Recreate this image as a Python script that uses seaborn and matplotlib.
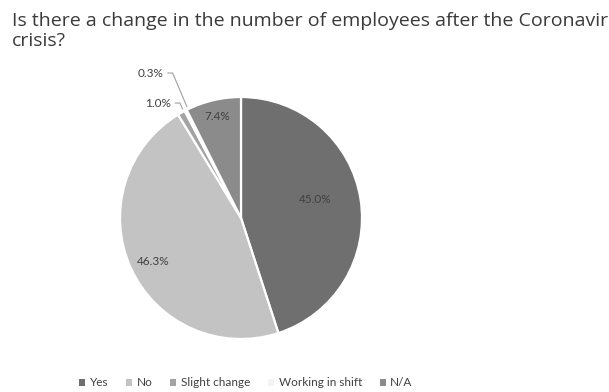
import numpy as np
import matplotlib
matplotlib.use("Agg")
import matplotlib.pyplot as plt
import seaborn as sns
from matplotlib.patches import Rectangle

sns.set_theme(style="white")
plt.rcParams["font.family"] = ["Lato", "DejaVu Sans"]

# Survey answers, drawn clockwise from 12 o'clock
categories = ["Yes", "No", "Slight change", "Working in shift", "N/A"]
shares = [45.0, 46.3, 1.0, 0.3, 7.4]
labels = ["45.0%", "46.3%", "1.0%", "0.3%", "7.4%"]
colors = ["#6f6f6f", "#c3c3c3", "#a3a3a3", "#f4f4f4", "#8b8b8b"]
title_lines = ["Is there a change in the number of employees after the Coronavirus",
               "crisis?"]

W, H = 609, 392
fig = plt.figure(figsize=(W / 100, H / 100), dpi=100)
fig.patch.set_facecolor("white")

cx, cy, r = 241, 218, 121
ax = fig.add_axes([(cx - r) / W, (H - cy - r) / H, 2 * r / W, 2 * r / H])
wedges, _ = ax.pie(shares, colors=colors, startangle=90, counterclock=False,
                   radius=1.0,
                   wedgeprops=dict(edgecolor="white", linewidth=1.6))
ax.set_xlim(-1, 1)
ax.set_ylim(-1, 1)
ax.axis("off")

txt_color = "#404040"
# inside labels: (index, radial distance as fraction of radius, angle offset)
inside = {0: (0.63, 5.0), 1: (0.81, 2.0), 4: (0.86, 0.0)}
for i, (dist, off) in inside.items():
    w = wedges[i]
    ang = np.deg2rad((w.theta1 + w.theta2) / 2 + off)
    ax.text(dist * np.cos(ang), dist * np.sin(ang), labels[i],
            ha="center", va="center", fontsize=8.5, color=txt_color)

# outside labels with leader lines for the two thin slices
outside = {2: (-0.69, 0.95), 3: (-0.75, 1.198)}
for i, (tx, ty) in outside.items():
    w = wedges[i]
    ang = np.deg2rad((w.theta1 + w.theta2) / 2)
    ex, ey = 1.0 * np.cos(ang), 1.0 * np.sin(ang)
    ax.text(tx, ty, labels[i], ha="center", va="center", fontsize=8.5,
            color=txt_color, clip_on=False)
    sx = tx + 0.145
    ax.plot([sx, sx + 0.04, ex + 0.01], [ty, ty, ey + 0.03],
            color="#a0a0a0", lw=0.8, clip_on=False)

for k, line in enumerate(title_lines):
    fig.text(12 / W, 1 - (26.5 + 20 * k) / H, line, ha="left", va="baseline",
             fontsize=14, color="#3a3a3a", family=["Open Sans", "DejaVu Sans"])

handles = [Rectangle((0, 0), 1, 1, facecolor=c, edgecolor="none") for c in colors]
fig.legend(handles, categories, loc="center", bbox_to_anchor=(246 / W, 1 - 383 / H),
           ncol=5, frameon=False, fontsize=8.5, handlelength=0.5, handleheight=0.5,
           handletextpad=0.4, columnspacing=1.5, labelcolor="#404040")

fig.savefig("out.png", dpi=100, facecolor="white")
